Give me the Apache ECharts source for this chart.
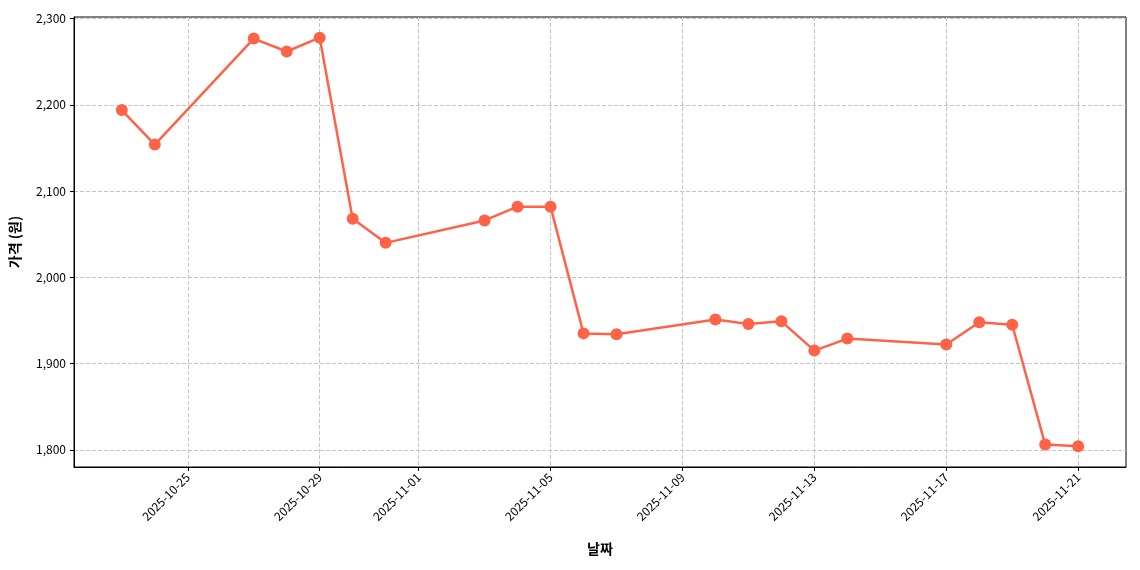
<!DOCTYPE html>
<html><head><meta charset="utf-8">
<script src="https://cdn.jsdelivr.net/npm/echarts@6/dist/echarts.min.js"></script>
<style>html,body{margin:0;background:#fff}#chart{width:1140px;height:570px}</style>
</head><body><div id="chart"></div>
<script>
// 날짜별 가격 데이터
const dates = ['2025-10-23','2025-10-24','2025-10-27','2025-10-28','2025-10-29','2025-10-30','2025-10-31',
  '2025-11-03','2025-11-04','2025-11-05','2025-11-06','2025-11-07','2025-11-10','2025-11-11','2025-11-12',
  '2025-11-13','2025-11-14','2025-11-17','2025-11-18','2025-11-19','2025-11-20','2025-11-21'];
const prices = [2194, 2154, 2277, 2262, 2278, 2068, 2040, 2066, 2082, 2082, 1935, 1934, 1951, 1946, 1949,
  1915, 1929, 1922, 1948, 1945, 1806, 1804];
const xTicks = ['2025-10-25','2025-10-29','2025-11-01','2025-11-05','2025-11-09','2025-11-13','2025-11-17','2025-11-21'];
const yTicks = [1800, 1900, 2000, 2100, 2200, 2300];

// x축은 기준일(10-23)로부터의 일수로 표현
const DAY = 86400000;
const BASE = Date.UTC(2025, 9, 23);
function dayNum(s) { const p = s.split('-'); return Math.round((Date.UTC(+p[0], +p[1] - 1, +p[2]) - BASE) / DAY); }
function fmt(v) {
  const d = new Date(BASE + Math.round(v) * DAY);
  return d.getUTCFullYear() + '-' + String(d.getUTCMonth() + 1).padStart(2, '0') + '-' + String(d.getUTCDate()).padStart(2, '0');
}
const font = '"Noto Sans CJK KR", "Noto Sans", sans-serif';
const xt = xTicks.map(dayNum);

const chart = echarts.init(document.getElementById('chart'));
chart.setOption({
  animation: false,
  textStyle: { fontFamily: font },
  grid: { left: 74, right: 14, top: 17, bottom: 103, show: true, borderColor: '#000', borderWidth: 1 },
  xAxis: {
    type: 'value',
    min: -1.45, max: dayNum('2025-11-21') + 1.45,
    name: '날짜', nameLocation: 'middle', nameGap: 75,
    nameTextStyle: { fontSize: 14, fontWeight: 'bold', color: '#000' },
    axisLine: { onZero: false, lineStyle: { color: '#000' } },
    axisTick: { customValues: xt, length: 4, lineStyle: { color: '#000' } },
    axisLabel: { customValues: xt, rotate: 45, fontSize: 12, color: '#000', formatter: fmt, margin: 8 },
    splitLine: { show: true, lineStyle: { type: 'dashed', color: '#c4c4c4' } }
  },
  yAxis: {
    type: 'value', min: 1780, max: 2302,
    name: '가격 (원)', nameLocation: 'middle', nameGap: 52, nameRotate: 90,
    nameTextStyle: { fontSize: 14, fontWeight: 'bold', color: '#000' },
    axisLine: { show: true, onZero: false, lineStyle: { color: '#000' } },
    axisTick: { show: true, customValues: yTicks, length: 4, lineStyle: { color: '#000' } },
    axisLabel: { customValues: yTicks, fontSize: 12, color: '#000' },
    splitLine: { show: true, lineStyle: { type: 'dashed', color: '#c4c4c4' } }
  },
  series: [{
    type: 'line',
    data: dates.map((d, i) => [dayNum(d), prices[i]]),
    symbol: 'circle', symbolSize: 12,
    lineStyle: { color: '#ff6347', width: 2.5 },
    itemStyle: { color: '#ff6347' }
  }]
});
</script></body></html>
